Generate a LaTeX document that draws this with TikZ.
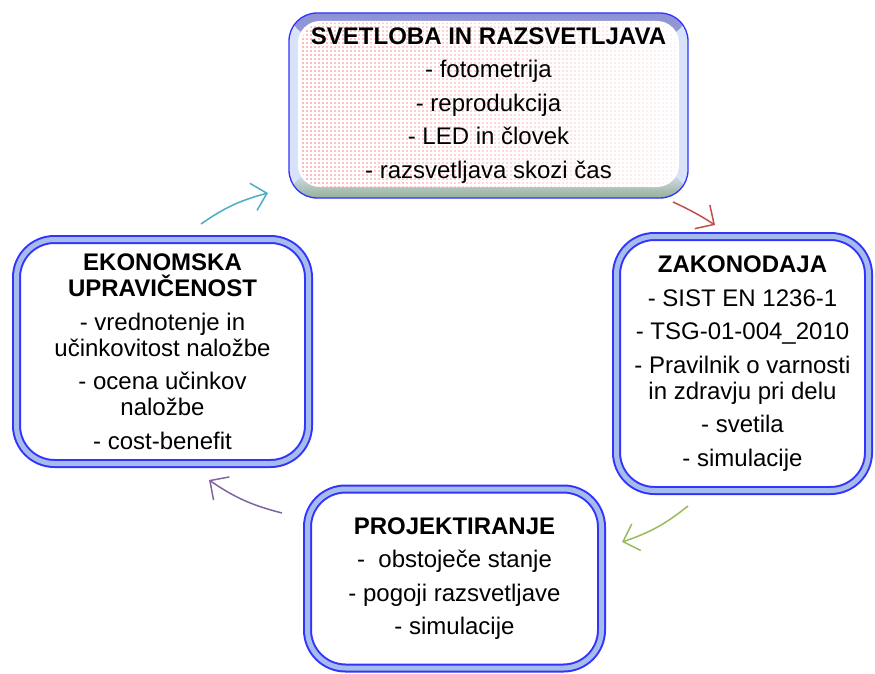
\documentclass[tikz,border=0pt]{standalone}
\usepackage{fontspec}
\setmainfont{Liberation Sans}
\usetikzlibrary{arrows.meta,calc}

\definecolor{ringblue}{RGB}{51,51,255}
\definecolor{ringband}{RGB}{166,188,234}
\definecolor{bevtop}{RGB}{140,146,212}
\definecolor{bevside}{RGB}{216,226,248}
\definecolor{bevbot}{RGB}{150,176,150}
\definecolor{dotred}{RGB}{245,30,30}
\definecolor{acccyan}{RGB}{75,172,198}
\definecolor{accred}{RGB}{192,80,77}
\definecolor{accgreen}{RGB}{155,187,89}
\definecolor{accpurple}{RGB}{128,100,162}

\newcommand{\gap}{\\[7.5pt]}

\begin{document}
\begin{tikzpicture}[x=1pt,y=-1pt,
  txt/.style={align=center, font=\fontsize{24}{26}\selectfont, inner sep=0pt},
  ringbox/.style={txt, shape=rectangle, rounded corners=38pt, draw=ringblue,
    line width=2pt, double=ringband, double distance=5pt, fill=white},
  topbox/.style={txt, shape=rectangle, rounded corners=28pt, draw=ringblue,
    line width=1.3pt, fill=bevside,
    path picture={
      % bevelled rim: dark top edge, pale sides, grey-green bottom edge
      \shade[top color=bevtop, bottom color=bevside]
        (path picture bounding box.north west) rectangle
        ($(path picture bounding box.north east)+(0,24)$);
      \shade[top color=bevside, bottom color=bevbot]
        ($(path picture bounding box.south west)+(0,-26)$) rectangle
        (path picture bounding box.south east);
      \path[fill=white, rounded corners=22pt]
        ($(path picture bounding box.north west)+(9,8)$) rectangle
        ($(path picture bounding box.south east)+(-9,-11)$);
      % halftone of red dots, fading towards the right
      \begin{scope}
        \clip[rounded corners=22pt]
          ($(path picture bounding box.north west)+(12,10)$) rectangle
          ($(path picture bounding box.south east)+(-12,-11)$);
        \foreach \i in {0,...,98}{
          \pgfmathsetmacro{\op}{0.6*(1-0.85*\i/98)}
          \foreach \j in {0,...,45}{
            \fill[dotred, opacity=\op]
              ($(path picture bounding box.north west)+(2+4*\i,2+4*\j)$)
              circle[radius=0.85pt];
          }
        }
      \end{scope}
    }},
  conn/.style={line width=1.5pt, -{Straight Barb[length=14pt,width=28pt]}}
]
\useasboundingbox (0,0) rectangle (875,674);

% the four stages of the cycle
\node[topbox, minimum width=399pt, minimum height=185pt] (svet) at (488.5,105.5)
  {\textbf{SVETLOBA IN RAZSVETLJAVA}\gap - fotometrija\gap - reprodukcija\gap
   - LED in človek\gap - razsvetljava skozi čas};

\node[ringbox, minimum width=252pt, minimum height=254pt] (zak) at (742.5,363.5)
  {\textbf{ZAKONODAJA}\gap - SIST EN 1236-1\gap - TSG-01-004\_2010\gap
   - Pravilnik o varnosti\\in zdravju pri delu\gap - svetila\gap - simulacije};

\node[ringbox, minimum width=294pt, minimum height=179pt] (proj) at (454.5,578.5)
  {\textbf{PROJEKTIRANJE}\gap -\ \ obstoječe stanje\gap - pogoji razsvetljave\gap
   - simulacije};

\node[ringbox, minimum width=292pt, minimum height=224pt] (eko) at (162.5,351.5)
  {\textbf{EKONOMSKA}\\\textbf{UPRAVIČENOST}\gap - vrednotenje in\\
   učinkovitost naložbe\gap - ocena učinkov\\naložbe\gap - cost-benefit};

% arrows between the stages
\coordinate (c1s) at (201,224); \coordinate (c1e) at (268,193);
\coordinate (c2s) at (673,202); \coordinate (c2e) at (715,225);
\coordinate (c3s) at (688,506); \coordinate (c3e) at (622,542);
\coordinate (c4s) at (282,513); \coordinate (c4e) at (209,480);

\draw[conn, acccyan]   (c1s) to[bend left=10] (c1e);
\draw[conn, accred]    (c2s) to[bend left=4]  (c2e);
\draw[conn, accgreen]  (c3s) to[bend left=10] (c3e);
\draw[conn, accpurple] (c4s) to[bend left=10] (c4e);
\end{tikzpicture}
\end{document}
